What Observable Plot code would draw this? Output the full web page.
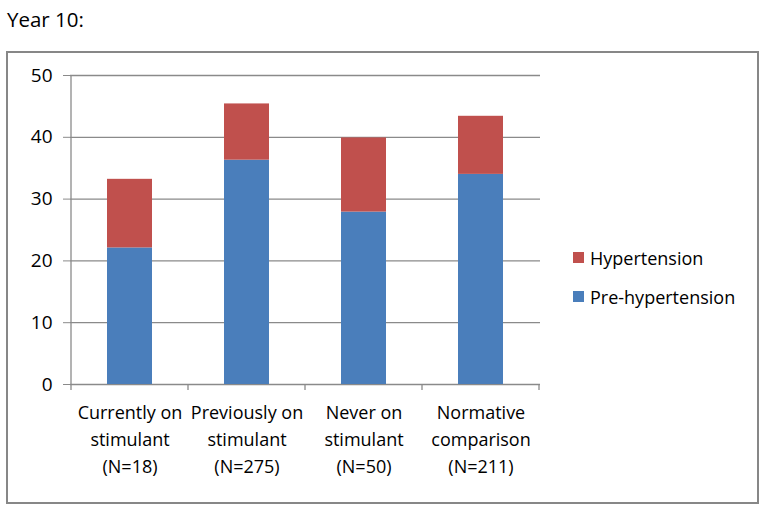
<!DOCTYPE html>
<html>
<head>
<meta charset="utf-8">
<script src="https://cdn.jsdelivr.net/npm/d3@7"></script>
<script src="https://cdn.jsdelivr.net/npm/@observablehq/plot@0.6"></script>
<style>
  html, body { margin: 0; padding: 0; background: #fff; }
  #wrap { position: relative; width: 764px; height: 509px; overflow: hidden; font-family: "Open Sans", "Liberation Sans", sans-serif; }
  #title { position: absolute; left: 7px; top: 5px; font-size: 20.5px; color: #000; }
  #box { position: absolute; left: 6px; top: 51px; width: 749px; height: 449px; border: 2px solid #878787; }
  #chart { position: absolute; left: 0; top: 0; }
  #legend { position: absolute; left: 573px; top: 238px; font-size: 18px; color: #000; }
  .li { display: flex; align-items: center; height: 39px; }
  .sw { width: 11px; height: 11px; margin-right: 6px; }
</style>
</head>
<body>
<div id="wrap">
  <div id="title">Year 10:</div>
  <div id="box"></div>
  <div id="chart"></div>
  <div id="legend"></div>
</div>
<script>
const categories = ["Currently on\nstimulant\n(N=18)", "Previously on\nstimulant\n(N=275)", "Never on\nstimulant\n(N=50)", "Normative\ncomparison\n(N=211)"];
const preHypertension = [22.1, 36.3, 27.9, 34.0];
const hypertension = [11.1, 9.1, 12.0, 9.4];
const seriesNames = ["Pre-hypertension", "Hypertension"];
const seriesColors = ["#4A7EBB", "#C0504D"];
const yTicks = [0, 10, 20, 30, 40, 50];

const rows = [];
categories.forEach((c, i) => {
  rows.push({cat: c, series: seriesNames[0], value: preHypertension[i]});
  rows.push({cat: c, series: seriesNames[1], value: hypertension[i]});
});

const gray = "#8a8a8a";
const plot = Plot.plot({
  width: 764,
  height: 509,
  marginTop: 75,
  marginBottom: 125,
  marginLeft: 70,
  marginRight: 224,
  style: {fontFamily: "'Open Sans', 'Liberation Sans', sans-serif", fontSize: "18px", color: "#000", background: "transparent"},
  x: {domain: categories, padding: 0, label: null},
  y: {domain: [0, 50], label: null},
  color: {domain: seriesNames, range: seriesColors},
  marks: [
    Plot.ruleY(yTicks, {stroke: gray, strokeWidth: 1.3, strokeOpacity: 1}),
    Plot.barY(rows, {x: "cat", y: "value", fill: "series", order: seriesNames, insetLeft: 36, insetRight: 36}),
    Plot.axisY(yTicks, {tickSize: 7, tickPadding: 11, stroke: gray, strokeOpacity: 1, fontSize: 19, tickFormat: d => String(d)}),
    Plot.axisX({tickSize: 0, tickPadding: 15, fontSize: 18, lineHeight: 1.5, textAnchor: "middle"})
  ]
});

// axis line and category boundary ticks derived from the plot's scales
const xs = plot.scale("x"), ys = plot.scale("y");
const svg = d3.select(plot);
const yTop = ys.apply(50), yBot = ys.apply(0);
const xLeft = xs.apply(categories[0]);
svg.append("line").attr("x1", xLeft).attr("x2", xLeft).attr("y1", yTop).attr("y2", yBot + 6)
  .attr("stroke", gray).attr("stroke-width", 1.3);
categories.forEach(c => {
  const xr = xs.apply(c) + xs.bandwidth;
  svg.append("line").attr("x1", xr).attr("x2", xr).attr("y1", yBot).attr("y2", yBot + 6)
    .attr("stroke", gray).attr("stroke-width", 1.3);
});
document.getElementById("chart").appendChild(plot);

const legend = document.getElementById("legend");
[1, 0].forEach(i => {
  const li = document.createElement("div");
  li.className = "li";
  li.innerHTML = `<div class="sw" style="background:${seriesColors[i]}"></div><span>${seriesNames[i]}</span>`;
  legend.appendChild(li);
});
</script>
</body>
</html>
